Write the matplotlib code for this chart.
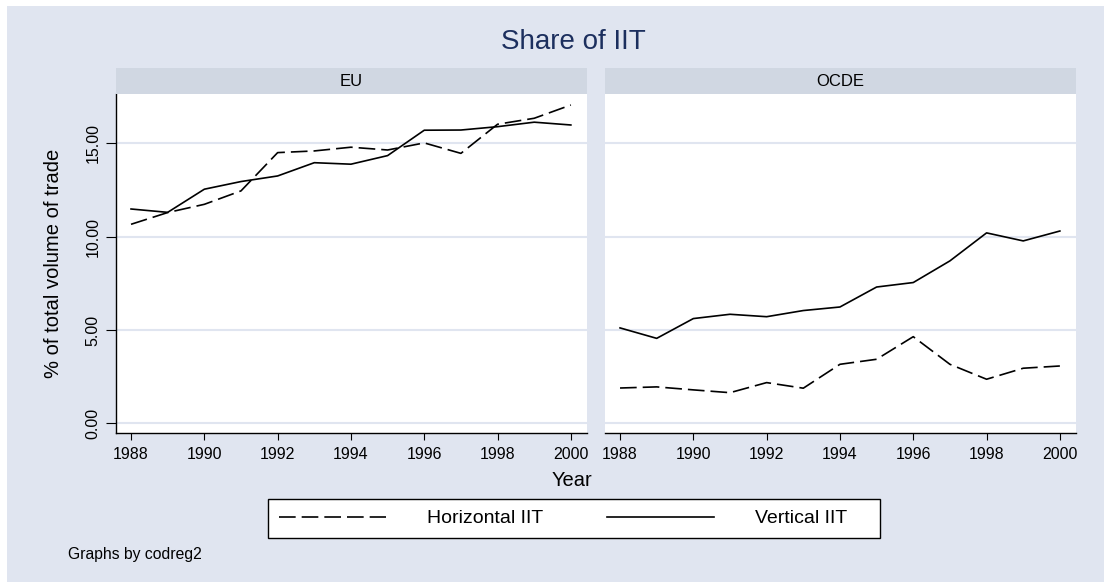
import matplotlib
matplotlib.use("Agg")
import matplotlib.pyplot as plt
from matplotlib.patches import Rectangle

plt.rcParams['font.family'] = ['Liberation Sans', 'DejaVu Sans']

# --- data ---
years = list(range(1988, 2001))
panels = ["EU", "OCDE"]

eu_horizontal = [10.66, 11.29, 11.73, 12.45, 14.50, 14.59, 14.79, 14.64, 15.02, 14.46, 16.02, 16.34, 17.05]
eu_vertical = [11.48, 11.30, 12.54, 12.95, 13.25, 13.96, 13.88, 14.34, 15.70, 15.71, 15.89, 16.13, 15.98]

ocde_horizontal = [1.89, 1.95, 1.79, 1.64, 2.18, 1.88, 3.16, 3.43, 4.64, 3.16, 2.36, 2.95, 3.07]
ocde_vertical = [5.11, 4.55, 5.61, 5.84, 5.71, 6.04, 6.23, 7.30, 7.54, 8.70, 10.20, 9.77, 10.30]

y_ticks = [0, 5, 10, 15]
y_ticklabels = ["0.00", "5.00", "10.00", "15.00"]
x_ticks = [1988, 1990, 1992, 1994, 1996, 1998, 2000]

series = {
    "EU": (eu_horizontal, eu_vertical),
    "OCDE": (ocde_horizontal, ocde_vertical),
}

BG = "#e0e5f0"
STRIP = "#d0d7e2"
GRID = "#e0e5f0"
TITLE_COLOR = "#1c2f5e"
W, H = 1104, 582

fig = plt.figure(figsize=(W / 100, H / 100), dpi=100)
fig.patch.set_facecolor("white")
fig.patches.append(Rectangle((7 / W, 0), 1 - 7 / W, 1 - 6 / H, transform=fig.transFigure,
                             facecolor=BG, edgecolor="none", zorder=-10))

dash = (0, (10, 3.6))
lefts = [116, 605]
ax_w = 471
ax_top, ax_bot = 94, 433
strip_top = 68

for i, name in enumerate(panels):
    left = lefts[i]
    ax = fig.add_axes([left / W, (H - ax_bot) / H, ax_w / W, (ax_bot - ax_top) / H])
    ax.set_facecolor("white")
    horiz, vert = series[name]
    ax.plot(years, horiz, color="black", lw=1.2, linestyle=dash, label="Horizontal IIT")
    ax.plot(years, vert, color="black", lw=1.2, label="Vertical IIT")
    ax.set_xlim(1987.59, 2000.44)
    ax.set_ylim(-0.52, 17.64)
    ax.set_yticks(y_ticks)
    for y in y_ticks:
        ax.axhline(y, color=GRID, lw=1.5, zorder=0)
    ax.set_xticks(x_ticks)
    ax.tick_params(axis="x", direction="out", length=5, width=0.8, labelsize=11.5, pad=5)
    for s in ["top", "right"]:
        ax.spines[s].set_visible(False)
    ax.spines["bottom"].set_linewidth(1.0)
    if i == 0:
        ax.set_yticklabels(y_ticklabels, rotation=90, va="center")
        ax.tick_params(axis="y", direction="out", length=7, width=0.8, labelsize=11.5, pad=4)
        ax.spines["left"].set_linewidth(1.0)
        ax.set_ylabel("% of total volume of trade", fontsize=14.5)
        ax.yaxis.set_label_coords((63 - left) / ax_w, 0.5)
        handles, labels = ax.get_legend_handles_labels()
    else:
        ax.spines["left"].set_visible(False)
        ax.tick_params(axis="y", left=False, labelleft=False)

    # strip label
    sx = fig.add_axes([left / W, (H - ax_top) / H, ax_w / W, (ax_top - strip_top) / H])
    sx.set_facecolor(STRIP)
    sx.set_xticks([])
    sx.set_yticks([])
    for s in sx.spines.values():
        s.set_visible(False)
    sx.text(0.5, 0.5, name, ha="center", va="center", fontsize=12, transform=sx.transAxes)

fig.text(573 / W, 1 - 42 / H, "Share of IIT", ha="center", va="center", fontsize=20, color=TITLE_COLOR)
fig.text(572 / W, 1 - 481 / H, "Year", ha="center", va="center", fontsize=14.5)
fig.text(68 / W, 1 - 555 / H, "Graphs by codreg2", ha="left", va="center", fontsize=11.3)

# legend box drawn by hand, entries placed inside it
fig.patches.append(Rectangle((268 / W, 1 - 538 / H), 612 / W, 39 / H, transform=fig.transFigure,
                             facecolor="white", edgecolor="black", lw=1.0, zorder=1))
fig.legend(handles, labels, loc="center left", bbox_to_anchor=(279 / W, 1 - 518.5 / H), ncol=2,
           fontsize=14, frameon=False, borderpad=0, borderaxespad=0, handlelength=5.5,
           columnspacing=3.3, handletextpad=2.1)

fig.savefig("out.png", dpi=100, facecolor=fig.get_facecolor())
